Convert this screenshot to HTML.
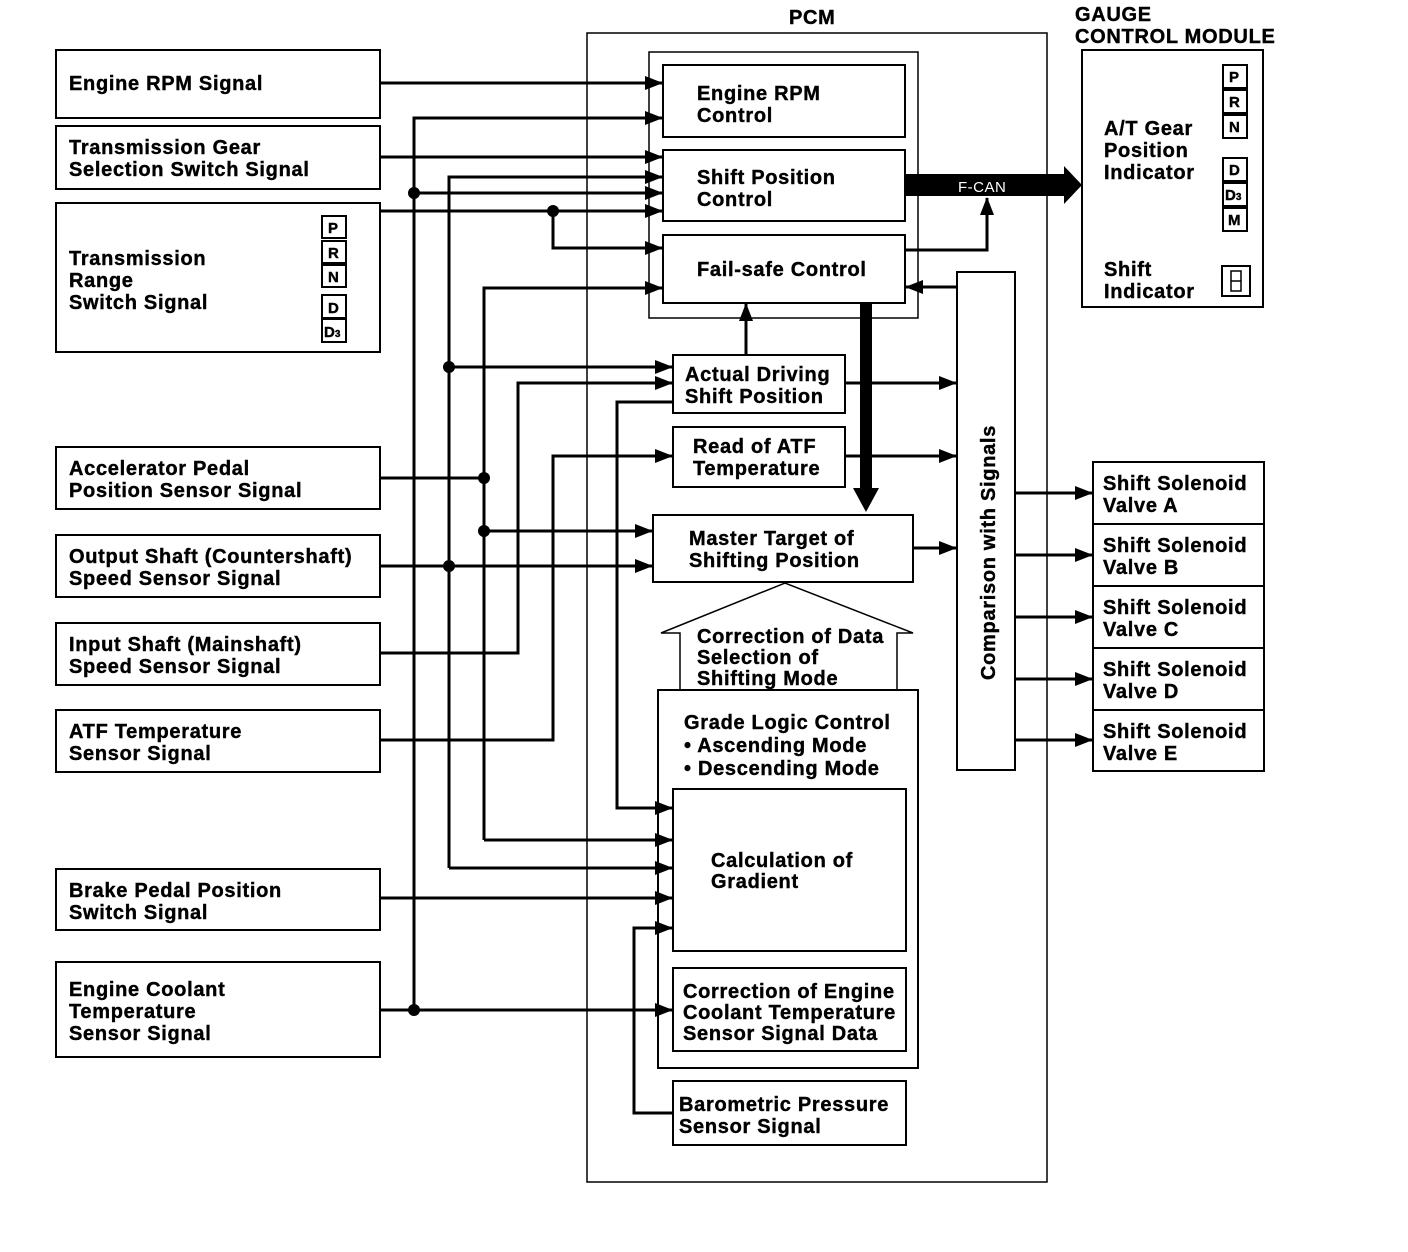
<!DOCTYPE html>
<html><head><meta charset="utf-8"><style>
html,body{margin:0;padding:0;background:#fff;}
svg{display:block;}
text{font-family:"Liberation Sans",Arial,sans-serif;font-weight:bold;font-size:20px;letter-spacing:0.7px;fill:#000;stroke:#000;stroke-width:0.4;}
.s{font-size:15px;letter-spacing:0;}
</style></head><body>
<svg width="1408" height="1252" viewBox="0 0 1408 1252" xmlns="http://www.w3.org/2000/svg">
<defs>
<marker id="a" markerUnits="userSpaceOnUse" markerWidth="18" markerHeight="14" refX="17" refY="7" orient="auto"><path d="M0,0 L18,7 L0,14 Z" fill="#000"/></marker>
</defs>
<g fill="none" stroke="#000" stroke-width="2">
<rect x="56" y="50" width="324" height="68"/>
<rect x="56" y="126" width="324" height="63"/>
<rect x="56" y="203" width="324" height="149"/>
<rect x="56" y="447" width="324" height="62"/>
<rect x="56" y="535" width="324" height="62"/>
<rect x="56" y="623" width="324" height="62"/>
<rect x="56" y="710" width="324" height="62"/>
<rect x="56" y="869" width="324" height="61"/>
<rect x="56" y="962" width="324" height="95"/>
<rect x="322" y="216" width="24" height="22"/><rect x="322" y="241" width="24" height="22"/><rect x="322" y="265" width="24" height="22"/>
<rect x="322" y="295" width="24" height="23"/><rect x="322" y="319" width="24" height="23"/>
<rect x="587" y="33" width="460" height="1149" stroke-width="1.5"/>
<rect x="649" y="52" width="269" height="266" stroke-width="1.5"/>
<rect x="663" y="65" width="242" height="72"/>
<rect x="663" y="150" width="242" height="71"/>
<rect x="663" y="235" width="242" height="68"/>
<rect x="673" y="355" width="172" height="58"/>
<rect x="673" y="427" width="172" height="60"/>
<rect x="653" y="515" width="260" height="67"/>
<rect x="658" y="690" width="260" height="378"/>
<rect x="673" y="789" width="233" height="162"/>
<rect x="673" y="968" width="233" height="83"/>
<rect x="673" y="1081" width="233" height="64"/>
<rect x="957" y="272" width="58" height="498"/>
<polyline points="680,690 680,633 661,633 785,583 913,633 897,633 897,690" stroke-width="1.5"/>
<rect x="1082" y="50" width="181" height="257"/>
<rect x="1223" y="65" width="24" height="23"/><rect x="1223" y="90" width="24" height="23"/><rect x="1223" y="115" width="24" height="23"/>
<rect x="1223" y="158" width="24" height="23"/><rect x="1223" y="183" width="24" height="23"/><rect x="1223" y="208" width="24" height="23"/>
<rect x="1222" y="266" width="28" height="30"/>
<path d="M1231,271 h10 v10 h-10 z M1231,281 v10 h10 v-10" stroke-width="1.5"/>
<rect x="1093" y="462" width="171" height="309"/>
<line x1="1093" y1="524" x2="1264" y2="524"/><line x1="1093" y1="586" x2="1264" y2="586"/>
<line x1="1093" y1="648" x2="1264" y2="648"/><line x1="1093" y1="710" x2="1264" y2="710"/>
</g>
<g fill="none" stroke="#000" stroke-width="3">
<line x1="380" y1="83" x2="662" y2="83" marker-end="url(#a)"/>
<polyline points="414,1010 414,118 662,118" marker-end="url(#a)"/>
<line x1="380" y1="157" x2="662" y2="157" marker-end="url(#a)"/>
<polyline points="449,868 449,177 662,177" marker-end="url(#a)"/>
<line x1="414" y1="193" x2="662" y2="193" marker-end="url(#a)"/>
<line x1="380" y1="211" x2="662" y2="211" marker-end="url(#a)"/>
<polyline points="553,211 553,248 662,248" marker-end="url(#a)"/>
<polyline points="484,840 484,288 662,288" marker-end="url(#a)"/>
<line x1="449" y1="367" x2="672" y2="367" marker-end="url(#a)"/>
<polyline points="380,653 518,653 518,383 672,383" marker-end="url(#a)"/>
<polyline points="673,402 617,402 617,808 672,808" marker-end="url(#a)"/>
<polyline points="380,740 553,740 553,456 672,456" marker-end="url(#a)"/>
<line x1="380" y1="478" x2="484" y2="478"/>
<line x1="484" y1="531" x2="652" y2="531" marker-end="url(#a)"/>
<line x1="380" y1="566" x2="652" y2="566" marker-end="url(#a)"/>
<line x1="484" y1="840" x2="672" y2="840" marker-end="url(#a)"/>
<line x1="449" y1="868" x2="672" y2="868" marker-end="url(#a)"/>
<line x1="380" y1="898" x2="672" y2="898" marker-end="url(#a)"/>
<polyline points="673,1113 634,1113 634,928 672,928" marker-end="url(#a)"/>
<line x1="380" y1="1010" x2="672" y2="1010" marker-end="url(#a)"/>
<line x1="746" y1="355" x2="746" y2="304" marker-end="url(#a)"/>
<line x1="845" y1="383" x2="956" y2="383" marker-end="url(#a)"/>
<line x1="845" y1="456" x2="956" y2="456" marker-end="url(#a)"/>
<line x1="913" y1="548" x2="956" y2="548" marker-end="url(#a)"/>
<line x1="957" y1="287" x2="906" y2="287" marker-end="url(#a)"/>
<polyline points="905,250 987,250 987,198" marker-end="url(#a)"/>
<line x1="1015" y1="493" x2="1092" y2="493" marker-end="url(#a)"/>
<line x1="1015" y1="555" x2="1092" y2="555" marker-end="url(#a)"/>
<line x1="1015" y1="617" x2="1092" y2="617" marker-end="url(#a)"/>
<line x1="1015" y1="679" x2="1092" y2="679" marker-end="url(#a)"/>
<line x1="1015" y1="740" x2="1092" y2="740" marker-end="url(#a)"/>
</g>
<g fill="#000">
<circle cx="414" cy="193" r="6"/><circle cx="553" cy="211" r="6"/><circle cx="449" cy="367" r="6"/>
<circle cx="484" cy="478" r="6"/><circle cx="484" cy="531" r="6"/><circle cx="449" cy="566" r="6"/>
<circle cx="414" cy="1010" r="6"/>
<path d="M905,174 H1064 V166 L1082,185 L1064,204 V196 H905 Z"/>
<path d="M860,303 H872 V488 H879 L866,512 L853,488 H860 Z"/>
</g>
<text x="958" y="192" style="fill:#fff;stroke:none;font-weight:normal;font-size:15px;letter-spacing:0.5px">F-CAN</text>
<text x="789" y="24">PCM</text>
<text x="1075" y="21">GAUGE</text>
<text x="1075" y="43">CONTROL MODULE</text>
<text x="69" y="90">Engine RPM Signal</text>
<text x="69" y="154">Transmission Gear</text><text x="69" y="176">Selection Switch Signal</text>
<text x="69" y="265">Transmission</text><text x="69" y="287">Range</text><text x="69" y="309">Switch Signal</text>
<text x="328" y="233" class="s">P</text><text x="328" y="258" class="s">R</text><text x="328" y="282" class="s">N</text><text x="328" y="313" class="s">D</text><text x="324" y="337" class="s">D<tspan font-size="10">3</tspan></text>
<text x="1229" y="82" class="s">P</text><text x="1229" y="107" class="s">R</text><text x="1229" y="132" class="s">N</text><text x="1229" y="175" class="s">D</text><text x="1225" y="200" class="s">D<tspan font-size="10">3</tspan></text><text x="1228" y="225" class="s">M</text>
<text x="69" y="475">Accelerator Pedal</text><text x="69" y="497">Position Sensor Signal</text>
<text x="69" y="563">Output Shaft (Countershaft)</text><text x="69" y="585">Speed Sensor Signal</text>
<text x="69" y="651">Input Shaft (Mainshaft)</text><text x="69" y="673">Speed Sensor Signal</text>
<text x="69" y="738">ATF Temperature</text><text x="69" y="760">Sensor Signal</text>
<text x="69" y="897">Brake Pedal Position</text><text x="69" y="919">Switch Signal</text>
<text x="69" y="996">Engine Coolant</text><text x="69" y="1018">Temperature</text><text x="69" y="1040">Sensor Signal</text>
<text x="697" y="100">Engine RPM</text><text x="697" y="122">Control</text>
<text x="697" y="184">Shift Position</text><text x="697" y="206">Control</text>
<text x="697" y="276">Fail-safe Control</text>
<text x="685" y="381">Actual Driving</text><text x="685" y="403">Shift Position</text>
<text x="693" y="453">Read of ATF</text><text x="693" y="475">Temperature</text>
<text x="689" y="545">Master Target of</text><text x="689" y="567">Shifting Position</text>
<text x="697" y="643">Correction of Data</text><text x="697" y="664">Selection of</text><text x="697" y="685">Shifting Mode</text>
<text x="684" y="729">Grade Logic Control</text><text x="684" y="752">• Ascending Mode</text><text x="684" y="775">• Descending Mode</text>
<text x="711" y="867">Calculation of</text><text x="711" y="888">Gradient</text>
<text x="683" y="998">Correction of Engine</text><text x="683" y="1019">Coolant Temperature</text><text x="683" y="1040">Sensor Signal Data</text>
<text x="679" y="1111">Barometric Pressure</text><text x="679" y="1133">Sensor Signal</text>
<text x="1104" y="135">A/T Gear</text><text x="1104" y="157">Position</text><text x="1104" y="179">Indicator</text>
<text x="1104" y="276">Shift</text><text x="1104" y="298">Indicator</text>
<text transform="translate(995,680) rotate(-90)">Comparison with Signals</text>
<text x="1103" y="490">Shift Solenoid</text><text x="1103" y="512">Valve A</text>
<text x="1103" y="552">Shift Solenoid</text><text x="1103" y="574">Valve B</text>
<text x="1103" y="614">Shift Solenoid</text><text x="1103" y="636">Valve C</text>
<text x="1103" y="676">Shift Solenoid</text><text x="1103" y="698">Valve D</text>
<text x="1103" y="738">Shift Solenoid</text><text x="1103" y="760">Valve E</text>
</svg>
</body></html>
